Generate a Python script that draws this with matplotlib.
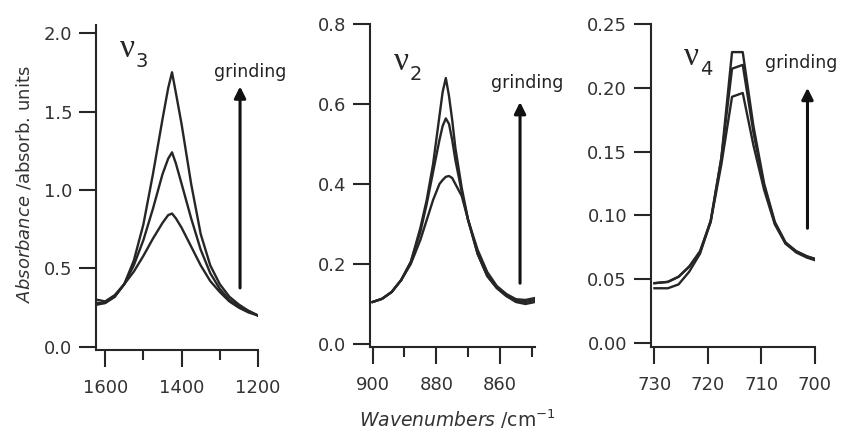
import numpy as np
import matplotlib
matplotlib.use('Agg')
import matplotlib.pyplot as plt
from matplotlib.ticker import FixedLocator, FormatStrFormatter

# nu3 band (CO3 asym. stretch), three grinding stages
wn_v3 = [1620, 1600, 1575, 1550, 1525, 1500, 1475, 1450, 1435, 1425,
         1415, 1400, 1375, 1350, 1325, 1300, 1275, 1250, 1225, 1200]
v3_low = [0.30, 0.29, 0.33, 0.40, 0.48, 0.58, 0.69, 0.79, 0.84, 0.85,
          0.82, 0.76, 0.64, 0.52, 0.42, 0.35, 0.29, 0.25, 0.22, 0.20]
v3_mid = [0.27, 0.28, 0.32, 0.40, 0.52, 0.68, 0.88, 1.10, 1.20, 1.24,
          1.17, 1.04, 0.82, 0.62, 0.47, 0.37, 0.30, 0.26, 0.23, 0.20]
v3_high = [0.28, 0.28, 0.32, 0.40, 0.55, 0.78, 1.10, 1.45, 1.65, 1.75,
           1.62, 1.42, 1.04, 0.72, 0.52, 0.40, 0.32, 0.27, 0.23, 0.20]

# nu2 band
wn_v2 = [900, 897, 894, 891, 888, 885, 883, 881, 879, 878, 877, 876,
         875, 874, 872, 870, 867, 864, 861, 858, 855, 852, 849]
v2_low = [0.105, 0.113, 0.13, 0.16, 0.20, 0.26, 0.31, 0.36, 0.40, 0.41, 0.418, 0.42,
          0.415, 0.40, 0.37, 0.31, 0.235, 0.18, 0.145, 0.125, 0.112, 0.11, 0.115]
v2_mid = [0.105, 0.113, 0.13, 0.16, 0.205, 0.28, 0.35, 0.43, 0.51, 0.545, 0.564, 0.55,
          0.51, 0.46, 0.38, 0.31, 0.225, 0.17, 0.14, 0.12, 0.108, 0.105, 0.11]
v2_high = [0.105, 0.113, 0.13, 0.16, 0.205, 0.29, 0.36, 0.45, 0.57, 0.63, 0.665, 0.62,
           0.56, 0.49, 0.39, 0.31, 0.225, 0.17, 0.14, 0.12, 0.105, 0.10, 0.105]

# nu4 band
wn_v4 = [730, 727.5, 725.5, 723.5, 721.5, 719.5, 717.5, 715.5, 713.5,
         711.5, 709.5, 707.5, 705.5, 703.5, 701.5, 700]
v4_low = [0.043, 0.043, 0.046, 0.056, 0.070, 0.095, 0.140, 0.193, 0.196,
          0.155, 0.120, 0.093, 0.078, 0.071, 0.067, 0.065]
v4_mid = [0.047, 0.048, 0.052, 0.060, 0.071, 0.096, 0.145, 0.215, 0.218,
          0.165, 0.123, 0.094, 0.078, 0.072, 0.068, 0.066]
v4_high = [0.047, 0.048, 0.052, 0.060, 0.072, 0.095, 0.145, 0.228, 0.228,
           0.170, 0.125, 0.095, 0.079, 0.072, 0.068, 0.066]

plt.rcParams['font.family'] = ['DejaVu Sans']
plt.rcParams['mathtext.fontset'] = 'dejavusans'
ink = '#262626'

fig = plt.figure(figsize=(8.44, 4.32), dpi=100)
ax1 = fig.add_axes([0.1137, 0.190, 0.192, 0.752])
ax2 = fig.add_axes([0.4384, 0.1968, 0.1955, 0.7476])
ax3 = fig.add_axes([0.771, 0.1968, 0.1946, 0.7476])

panels = [
    (ax1, wn_v3, [v3_low, v3_mid, v3_high], (1624, 1200), (-0.019, 2.051),
     [1600, 1400, 1200], [1500, 1300], np.arange(0, 2.01, 0.5), '%.1f'),
    (ax2, wn_v2, [v2_low, v2_mid, v2_high], (900.8, 849), (-0.0075, 0.8),
     [900, 880, 860], [890, 870, 850], np.arange(0, 0.81, 0.2), '%.1f'),
    (ax3, wn_v4, [v4_low, v4_mid, v4_high], (730.7, 700), (-0.003, 0.25),
     [730, 720, 710, 700], [], np.arange(0, 0.251, 0.05), '%.2f'),
]

for ax, wn, curves, xl, yl, xmaj, xmin, yt, fmt in panels:
    for c in curves:
        ax.plot(wn, c, color=ink, lw=1.7)
    ax.set_xlim(*xl)
    ax.set_ylim(*yl)
    ax.xaxis.set_major_locator(FixedLocator(xmaj))
    ax.xaxis.set_minor_locator(FixedLocator(xmin))
    ax.yaxis.set_major_locator(FixedLocator(yt))
    ax.yaxis.set_major_formatter(FormatStrFormatter(fmt))
    for s in ['top', 'right']:
        ax.spines[s].set_visible(False)
    for s in ['left', 'bottom']:
        ax.spines[s].set_linewidth(1.5)
        ax.spines[s].set_color(ink)
    ax.tick_params(axis='both', which='major', length=12, width=1.5,
                   color=ink, labelsize=13, labelcolor='#333333')
    ax.tick_params(axis='x', which='major', pad=9)
    ax.tick_params(axis='y', which='major', pad=5)
    ax.tick_params(axis='x', which='minor', length=7, width=1.5, color=ink)

# band labels
def band(ax, x, y, sub):
    ax.text(x, y, '\u03bd', family='Liberation Serif', fontsize=24, color=ink,
            ha='center', va='center')
    ax.annotate(sub, (x, y), xytext=(6, -9), textcoords='offset points',
                fontsize=14, color=ink, ha='left', va='center')

band(ax1, 1542, 1.90, '3')
band(ax2, 891, 0.705, '2')
band(ax3, 723, 0.224, '4')

# grinding arrows
arrows = [(ax1, 1247, 0.376, 1.66, 1221, 1.75),
          (ax2, 853.7, 0.152, 0.605, 851.3, 0.6525),
          (ax3, 701.4, 0.090, 0.200, 702.6, 0.2193)]
for ax, xa, y0, y1, xt, yt_ in arrows:
    ax.annotate('', xy=(xa, y1), xytext=(xa, y0),
                arrowprops=dict(arrowstyle='-|>', lw=2.2, color='#111111',
                                mutation_scale=17, shrinkA=0, shrinkB=0))
    ax.text(xt, yt_, 'grinding', fontsize=12.5, color='#222222',
            ha='center', va='center', clip_on=False)

fig.text(0.0284, 0.574, r'$\mathit{Absorbance}$ /absorb. units', rotation=90,
         ha='center', va='center', fontsize=13, color='#333333')
fig.text(0.5415, 0.030, r'$\mathit{Wavenumbers}$ /cm$^{\mathregular{-1}}$',
         ha='center', va='center', fontsize=13.5, color='#333333')

fig.savefig('out.png', dpi=100)
